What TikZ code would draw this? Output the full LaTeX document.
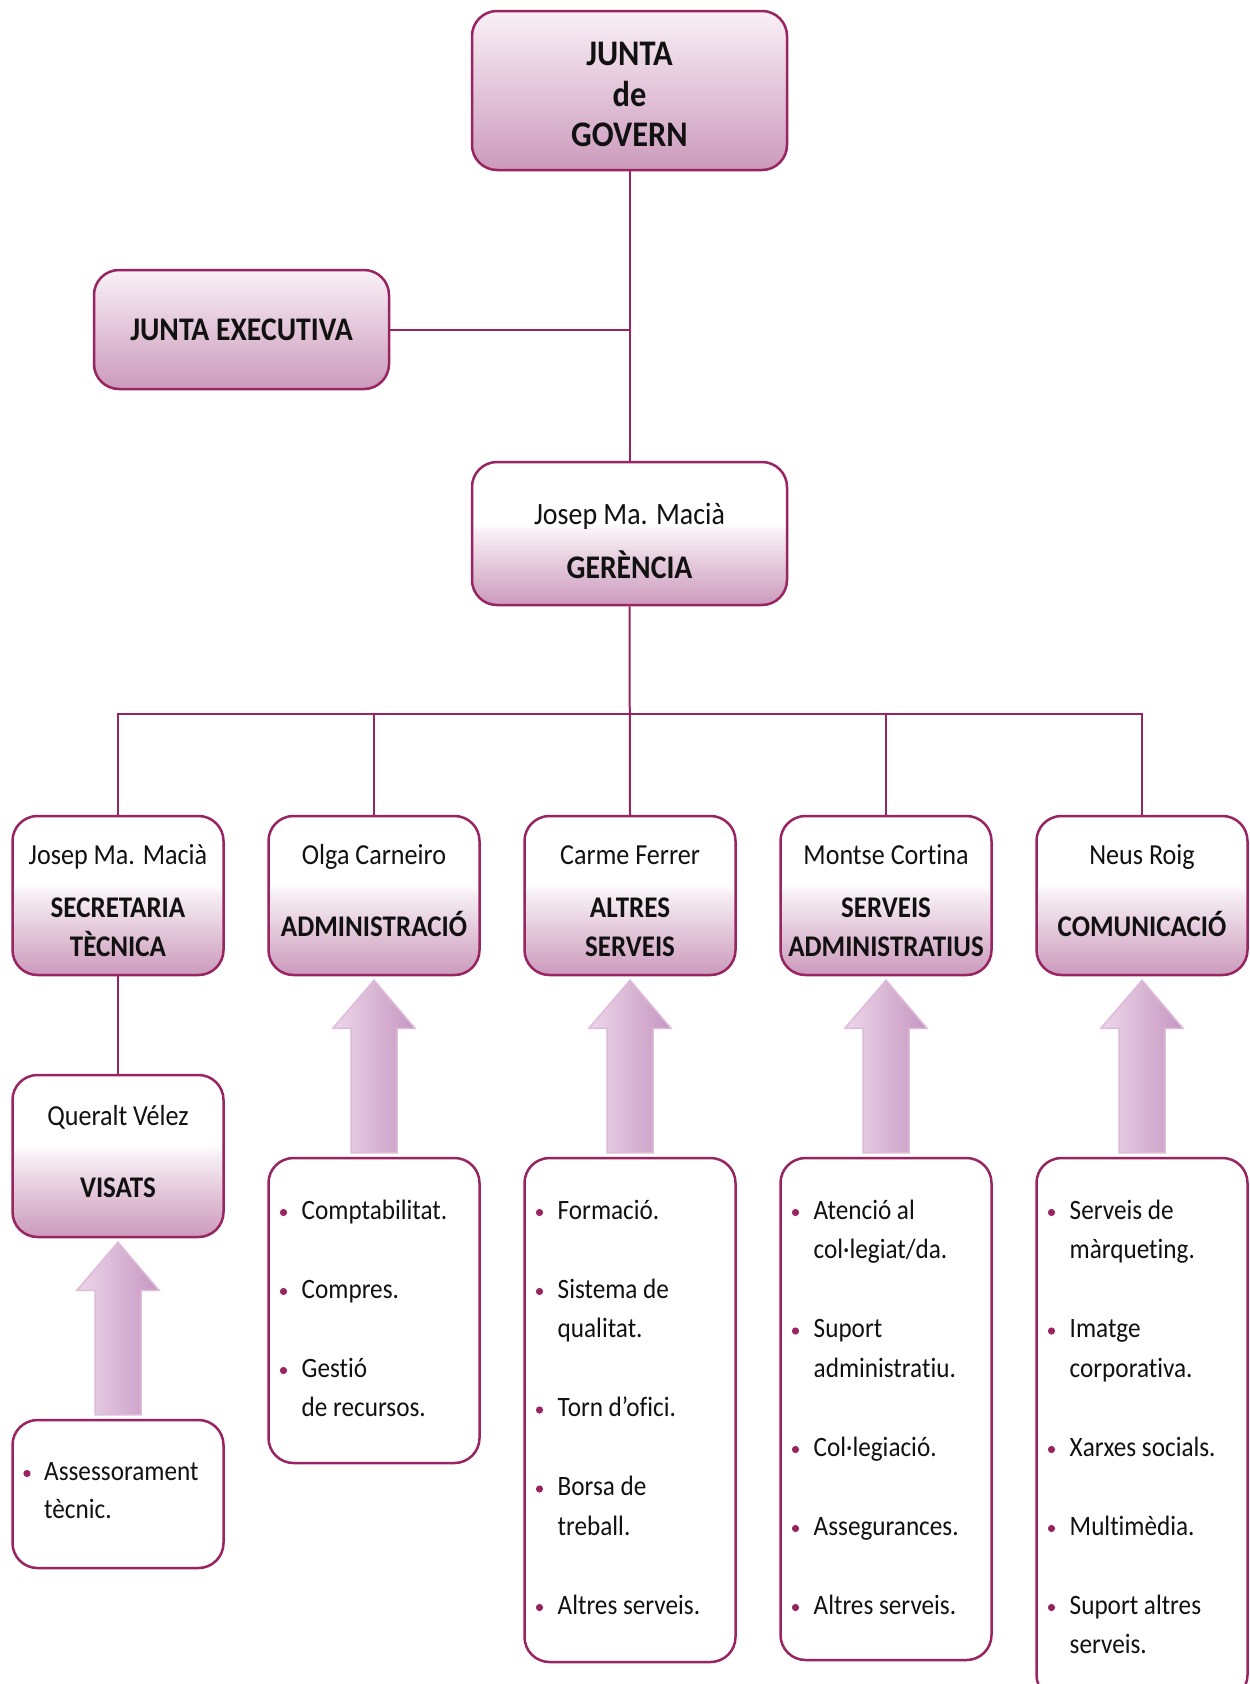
\documentclass[tikz,border=0pt]{standalone}
\usepackage{fontspec}
\setmainfont{Carlito}[FakeStretch=0.9, Ligatures={TeX,NoCommon}]
\usetikzlibrary{calc}
\definecolor{bord}{RGB}{152,36,98}
\definecolor{gtop}{RGB}{249,240,246}
\definecolor{gbot}{RGB}{204,154,188}
\colorlet{gmid}{gbot!55!white}
\colorlet{gpale}{gbot!14!white}
\definecolor{arl}{RGB}{236,214,234}
\definecolor{arr}{RGB}{198,150,192}
\definecolor{are}{RGB}{222,186,218}
\definecolor{txt}{RGB}{17,17,17}
\pgfdeclareverticalshading{halfshade}{100bp}{color(0bp)=(gbot); color(25bp)=(gbot); color(39bp)=(gmid); color(51bp)=(gpale); color(53.5bp)=(white); color(100bp)=(white)}
\tikzset{
 boxbase/.style={draw=bord, line width=2.5pt, rounded corners=25pt, inner sep=0pt},
 fullgrad/.style={boxbase, path picture={\shade[sharp corners, top color=gtop, bottom color=gbot] (path picture bounding box.south west) rectangle (path picture bounding box.north east);}},
 halfgrad/.style={boxbase, path picture={\shade[sharp corners, shading=halfshade] (path picture bounding box.south west) rectangle (path picture bounding box.north east);}},
 listbox/.style={boxbase, fill=white},
 conn/.style={draw=bord, line width=2pt},
 ttl/.style={font=\bfseries\fontsize{30}{36}\selectfont, text=txt, anchor=base, inner sep=0pt},
 nm/.style={font=\fontsize{29}{35}\selectfont, text=txt, anchor=base, inner sep=0pt},
 li/.style={font=\fontsize{28}{34}\selectfont, text=txt, anchor=base west, inner sep=0pt},
 blockarr/.style={left color=arl, right color=arr, draw=are, line width=1.5pt},
}
\newcommand\bitem[4]{%
 \fill[bord] ({#2+15}, {1212.5+39.5*#3}) circle (3.6pt);
 \node[li] (#1) at ({#2+33}, {1219+39.5*#3}) {#4};}
\newcommand\citem[4]{%
 \node[li] (#1) at ({#2+33}, {1219+39.5*#3}) {#4};}
\newcommand\blockarrow[2]{%
 \path[blockarr] let \p1=(#1.south), \p2=(#2.north) in
 (\x1,\y1-4pt) -- (\x1+41pt,\y1-52pt) -- (\x1+23pt,\y1-52pt) -- (\x1+23pt,\y2+4pt)
 -- (\x1-23pt,\y2+4pt) -- (\x1-23pt,\y1-52pt) -- (\x1-41pt,\y1-52pt) -- cycle;}
\begin{document}
\begin{tikzpicture}[x=1pt,y=-1pt]
\useasboundingbox (0,0) rectangle (1250,1684);
\clip (0,0) rectangle (1250,1684);
\fill[white] (0,0) rectangle (1250,1684);

% top boxes
\node[fullgrad, minimum width=315pt, minimum height=159pt] (govern) at (629.5,90.5) {};
\node[fullgrad, minimum width=295pt, minimum height=119pt] (exec) at (241.5,329.5) {};
\node[halfgrad, minimum width=315pt, minimum height=143pt] (ger) at (629.5,533.5) {};

% level 3
\node[halfgrad, minimum width=211pt, minimum height=159pt] (sec) at (118,895.5) {};
\node[halfgrad, minimum width=211pt, minimum height=159pt] (adm) at (374,895.5) {};
\node[halfgrad, minimum width=211pt, minimum height=159pt] (alt) at (630,895.5) {};
\node[halfgrad, minimum width=211pt, minimum height=159pt] (srv) at (886,895.5) {};
\node[halfgrad, minimum width=211pt, minimum height=159pt] (com) at (1142,895.5) {};
\node[halfgrad, minimum width=211pt, minimum height=162pt] (vis) at (118,1156) {};

% list boxes
\node[listbox, minimum width=211pt, minimum height=148pt] (assl) at (118,1494) {};
\node[listbox, minimum width=211pt, minimum height=305pt] (adml) at (374,1310.5) {};
\node[listbox, minimum width=211pt, minimum height=504pt] (altl) at (630,1410) {};
\node[listbox, minimum width=211pt, minimum height=502pt] (srvl) at (886,1409) {};
\node[listbox, minimum width=211pt, minimum height=542pt] (coml) at (1142,1429) {};

% connectors
\coordinate (bus) at (630,714);
\draw[conn] (govern.south) -- (ger.north);
\draw[conn] (exec.east) -- (exec.east -| govern.south);
\draw[conn] (ger.south) -- (alt.north);
\draw[conn] (sec.north) |- (bus) -| (com.north);
\draw[conn] (adm.north) -- (adm.north |- bus);
\draw[conn] (srv.north) -- (srv.north |- bus);
\draw[conn] (sec.south) -- (vis.north);

% block arrows
\blockarrow{vis}{assl}
\blockarrow{adm}{adml}
\blockarrow{alt}{altl}
\blockarrow{srv}{srvl}
\blockarrow{com}{coml}

% texts
\node[ttl, font=\bfseries\fontsize{36}{40}\selectfont] (g1) at (629.5,65) {JUNTA};
\node[ttl, font=\bfseries\fontsize{36}{40}\selectfont] (g2) at (629.5,106) {de};
\node[ttl, font=\bfseries\fontsize{36}{40}\selectfont] (g3) at (629.5,146) {GOVERN};
\node[ttl, font=\bfseries\fontsize{33}{38}\selectfont] (e1) at (241.5,340) {JUNTA EXECUTIVA};
\node[nm, font=\fontsize{31}{36}\selectfont] (gn) at (629.5,524) {Josep Ma. Macià};
\node[ttl, font=\bfseries\fontsize{33}{38}\selectfont] (gt) at (629.5,578) {GERÈNCIA};

\node[nm] (secn) at (118,864) {Josep Ma. Macià};
\node[ttl] (sect1) at (118,917) {SECRETARIA};
\node[ttl] (sect2) at (118,956) {TÈCNICA};
\node[nm] (admn) at (374,864) {Olga Carneiro};
\node[ttl] (admt) at (374,936) {ADMINISTRACIÓ};
\node[nm] (altn) at (630,864) {Carme Ferrer};
\node[ttl] (altt1) at (630,917) {ALTRES};
\node[ttl] (altt2) at (630,956) {SERVEIS};
\node[nm] (srvn) at (886,864) {Montse Cortina};
\node[ttl] (srvt1) at (886,917) {SERVEIS};
\node[ttl] (srvt2) at (886,956) {ADMINISTRATIUS};
\node[nm] (comn) at (1142,864) {Neus Roig};
\node[ttl] (comt) at (1142,936) {COMUNICACIÓ};
\node[nm] (visn) at (118,1125) {Queralt Vélez};
\node[ttl] (vist) at (118,1197) {VISATS};

% lists
\fill[bord] (27,1473.5) circle (3.6pt);
\node[li] (as1) at (44,1480) {Assessorament};
\node[li] (as2) at (44,1518) {tècnic.};

\bitem{ad1}{268.5}{0}{Comptabilitat.}
\bitem{ad2}{268.5}{2}{Compres.}
\bitem{ad3}{268.5}{4}{Gestió}
\citem{ad4}{268.5}{5}{de recursos.}

\bitem{al1}{524.5}{0}{Formació.}
\bitem{al2}{524.5}{2}{Sistema de}
\citem{al3}{524.5}{3}{qualitat.}
\bitem{al4}{524.5}{5}{Torn d’ofici.}
\bitem{al5}{524.5}{7}{Borsa de}
\citem{al6}{524.5}{8}{treball.}
\bitem{al7}{524.5}{10}{Altres serveis.}

\bitem{sv1}{780.5}{0}{Atenció al}
\citem{sv2}{780.5}{1}{col·legiat/da.}
\bitem{sv3}{780.5}{3}{Suport}
\citem{sv4}{780.5}{4}{administratiu.}
\bitem{sv5}{780.5}{6}{Col·legiació.}
\bitem{sv6}{780.5}{8}{Assegurances.}
\bitem{sv7}{780.5}{10}{Altres serveis.}

\bitem{cm1}{1036.5}{0}{Serveis de}
\citem{cm2}{1036.5}{1}{màrqueting.}
\bitem{cm3}{1036.5}{3}{Imatge}
\citem{cm4}{1036.5}{4}{corporativa.}
\bitem{cm5}{1036.5}{6}{Xarxes socials.}
\bitem{cm6}{1036.5}{8}{Multimèdia.}
\bitem{cm7}{1036.5}{10}{Suport altres}
\citem{cm8}{1036.5}{11}{serveis.}
\end{tikzpicture}
\end{document}
